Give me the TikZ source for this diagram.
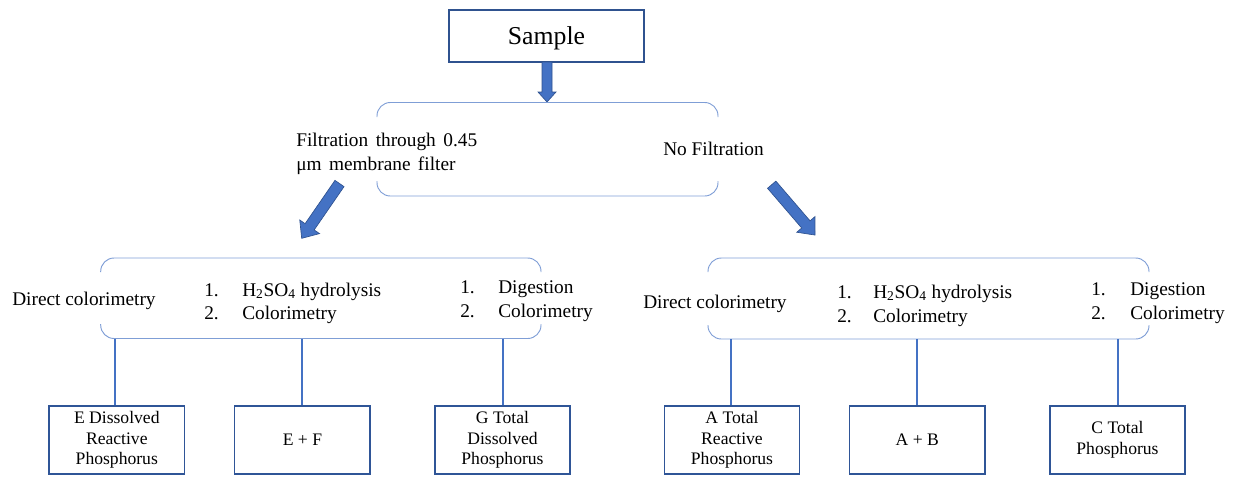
\documentclass[tikz,border=0pt]{standalone}
\usepackage{fontspec}
\setmainfont{Liberation Serif}
\definecolor{blockblue}{HTML}{4472C4}
\definecolor{blockedge}{HTML}{2F528F}
\definecolor{boxedge}{HTML}{2F5597}
\definecolor{linkblue}{HTML}{4472C4}
\definecolor{brackblue}{HTML}{7F9ED6}
\tikzset{
  samplebox/.style={draw=blockedge, line width=1.1pt, minimum width=146.25pt, minimum height=39pt, inner sep=0pt, text depth=0pt, font=\fontsize{19.3}{23}\selectfont},
  resbox/.style={draw=boxedge, line width=1.1pt, minimum width=101.5pt, minimum height=51pt, inner sep=0pt, align=center, font=\fontsize{13.2}{15.4}\selectfont},
  lbl/.style={inner sep=0pt, anchor=base west, font=\fontsize{14.5}{18}\selectfont},
  brack/.style={draw=brackblue, line width=0.7pt, rounded corners=10pt},
  link/.style={draw=linkblue, line width=1.5pt},
  blockarrow/.style={fill=blockblue, draw=blockedge, line width=0.5pt},
}
% #1,#2 tail centre, #3 angle, #4 length, #5 head length, #6 head half width, #7 shaft half width
\newcommand\blockarr[7]{%
  \begin{scope}[shift={(#1,#2)},rotate=#3]
    \filldraw[blockarrow] (0,-#7) -- (#4-#5,-#7) -- (#4-#5,-#6) -- (#4,0) -- (#4-#5,#6) -- (#4-#5,#7) -- (0,#7) -- cycle;
  \end{scope}}
\begin{document}
\begin{tikzpicture}[x=0.75pt,y=-0.75pt]
\useasboundingbox (0,0) rectangle (1235,476);

% top
\node[samplebox] (sample) at (546.5,36) {Sample};
\blockarr{547}{62}{-90}{40}{10}{9}{5}

% first bracket
\draw[brack] (377,117) -- (377,102.5) -- (718,102.5) -- (718,117);
\draw[brack] (377,181) -- (377,196) -- (718,196) -- (718,181);
\node[lbl] (filt1) at (296,146.5) {\makebox[135.75pt][s]{Filtration through 0.45}};
\node[lbl] (filt2) at (296,170.5) {μm\hspace{0.38em}membrane\hspace{0.38em}filter};
\node[lbl] (nofilt) at (663,155.5) {No Filtration};

\blockarr{339.5}{183.5}{235.4}{66.6}{14}{12}{5.5}
\blockarr{771.7}{184.7}{-49.3}{66.4}{14}{12}{5.5}

% second row brackets
\draw[brack] (100.7,272) -- (100.7,258) -- (541,258) -- (541,272);
\draw[brack] (100.7,324) -- (100.7,338.5) -- (541,338.5) -- (541,324);
\draw[brack] (708,272) -- (708,258) -- (1149,258) -- (1149,272);
\draw[brack] (708,325) -- (708,339) -- (1149,339) -- (1149,325);
\coordinate (l1) at (114.5,338.5);
\coordinate (l2) at (302.4,338.5);
\coordinate (l3) at (502.5,338.5);
\coordinate (r1) at (730.7,339);
\coordinate (r2) at (917.3,339);
\coordinate (r3) at (1117.5,339);

% left row texts
\node[lbl] (ldc) at (12,305) {Direct colorimetry};
\node[lbl] (lh1n) at (204,296) {1.};
\node[lbl] (lh1) at (242,296) {H\textsubscript{2}SO\textsubscript{4} hydrolysis};
\node[lbl] (lh2n) at (204,319) {2.};
\node[lbl] (lh2) at (242,319) {Colorimetry};
\node[lbl] (ld1n) at (460,293) {1.};
\node[lbl] (ld1) at (498,293) {Digestion};
\node[lbl] (ld2n) at (460,317) {2.};
\node[lbl] (ld2) at (498,317) {Colorimetry};

% right row texts
\node[lbl] (rdc) at (643,308) {Direct colorimetry};
\node[lbl] (rh1n) at (837,298) {1.};
\node[lbl] (rh1) at (873,298) {H\textsubscript{2}SO\textsubscript{4} hydrolysis};
\node[lbl] (rh2n) at (837,322) {2.};
\node[lbl] (rh2) at (873,322) {Colorimetry};
\node[lbl] (rd1n) at (1091,295) {1.};
\node[lbl] (rd1) at (1130,295) {Digestion};
\node[lbl] (rd2n) at (1091,319) {2.};
\node[lbl] (rd2) at (1130,319) {Colorimetry};

% result boxes
\node[resbox] (b1) at (116.8,440) {E Dissolved\\Reactive\\Phosphorus};
\node[resbox] (b2) at (302.4,440) {E + F};
\node[resbox] (b3) at (502.5,440) {G Total\\Dissolved\\Phosphorus};
\node[resbox] (b4) at (732,440) {A Total\\Reactive\\Phosphorus};
\node[resbox] (b5) at (917.3,440) {A + B};
\node[resbox] (b6) at (1117.5,440) {C Total\\Phosphorus};

\draw[link] (l1) -- (l1 |- b1.north);
\draw[link] (l2) -- (l2 |- b2.north);
\draw[link] (l3) -- (l3 |- b3.north);
\draw[link] (r1) -- (r1 |- b4.north);
\draw[link] (r2) -- (r2 |- b5.north);
\draw[link] (r3) -- (r3 |- b6.north);
\end{tikzpicture}
\end{document}
